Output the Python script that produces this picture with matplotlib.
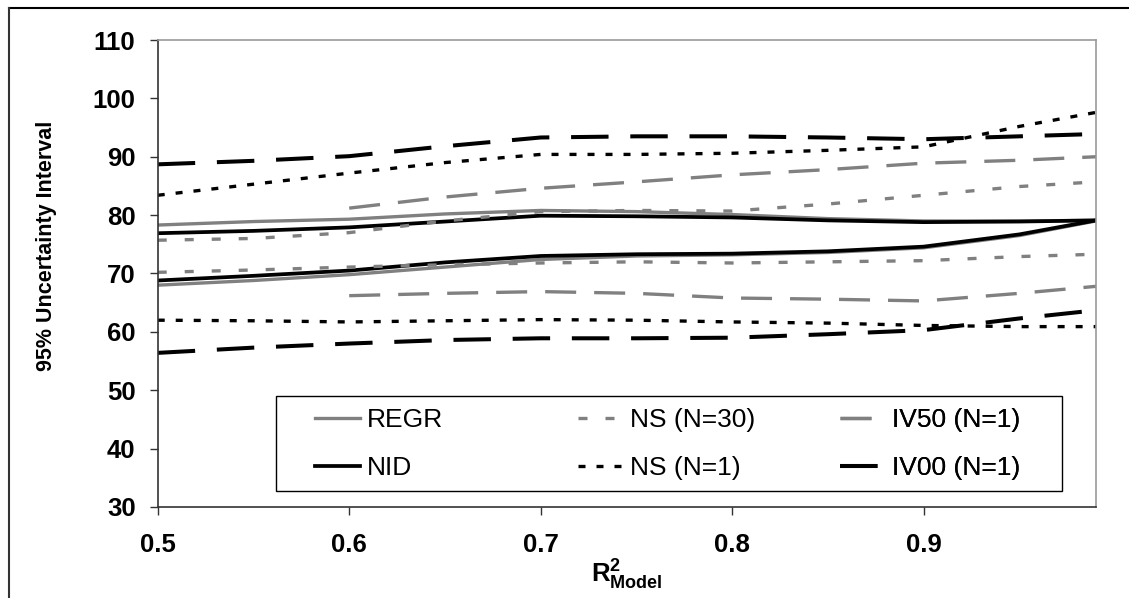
import numpy as np
import matplotlib
matplotlib.use("Agg")
import matplotlib.pyplot as plt
from matplotlib.lines import Line2D
from matplotlib.patches import Rectangle

plt.rcParams['font.family'] = ['Liberation Sans', 'DejaVu Sans']
plt.rcParams['mathtext.fontset'] = 'custom'
plt.rcParams['mathtext.rm'] = 'Liberation Sans'
plt.rcParams['mathtext.bf'] = 'Liberation Sans:bold'

# R^2 values
r2 = [0.5, 0.55, 0.6, 0.65, 0.7, 0.75, 0.8, 0.85, 0.9, 0.95, 0.99]
r2_iv50 = [0.6, 0.65, 0.7, 0.75, 0.8, 0.85, 0.9, 0.95, 0.99]

regr_hi = [78.3, 78.9, 79.3, 80.2, 80.8, 80.6, 80.1, 79.4, 79.0, 79.0, 79.1]
regr_lo = [68.0, 68.8, 69.8, 71.1, 72.4, 73.0, 73.2, 73.6, 74.4, 76.5, 79.0]
nid_hi = [76.9, 77.3, 77.9, 78.9, 79.9, 79.8, 79.6, 79.1, 78.8, 78.9, 79.1]
nid_lo = [68.8, 69.6, 70.5, 71.9, 73.0, 73.3, 73.4, 73.8, 74.6, 76.7, 79.1]
ns30_hi = [75.7, 76.0, 77.0, 79.0, 80.6, 80.8, 80.7, 81.9, 83.4, 84.9, 85.7]
ns30_lo = [70.2, 70.6, 71.1, 71.5, 71.8, 72.0, 71.8, 72.0, 72.2, 72.9, 73.3]
ns1_hi = [83.4, 85.3, 87.2, 89.0, 90.4, 90.4, 90.6, 91.1, 91.7, 95.2, 97.6]
ns1_lo = [62.0, 61.9, 61.7, 61.9, 62.1, 62.0, 61.7, 61.5, 61.1, 60.9, 60.9]
iv50_hi = [81.2, 83.1, 84.6, 85.7, 86.9, 87.8, 88.9, 89.4, 90.0]
iv50_lo = [66.2, 66.6, 66.9, 66.6, 65.8, 65.6, 65.3, 66.6, 67.8]
iv00_hi = [88.7, 89.3, 90.1, 91.8, 93.3, 93.5, 93.5, 93.3, 93.0, 93.5, 93.9]
iv00_lo = [56.4, 57.3, 58.0, 58.6, 58.9, 58.9, 59.0, 59.6, 60.3, 62.3, 63.7]

gray = '#808080'
lw = 2.4
long_dash = (0, (9.3, 5.4))
short_dash = (0, (2.7, 5.4))
dotted = (0, (2.1, 3.3))

fig = plt.figure(figsize=(11.29, 5.98), dpi=100)
ax = fig.add_axes([0.1397, 0.1522, 0.8311, 0.7809])

h_regr, = ax.plot(r2, regr_hi, color=gray, lw=lw, label='REGR')
ax.plot(r2, regr_lo, color=gray, lw=lw)
h_nid, = ax.plot(r2, nid_hi, color='black', lw=lw + 0.3, label='NID')
ax.plot(r2, nid_lo, color='black', lw=lw + 0.3)
h_ns30, = ax.plot(r2, ns30_hi, color=gray, lw=lw, ls=short_dash, label='NS (N=30)')
ax.plot(r2, ns30_lo, color=gray, lw=lw, ls=short_dash)
h_ns1, = ax.plot(r2, ns1_hi, color='black', lw=lw, ls=dotted, label='NS (N=1)')
ax.plot(r2, ns1_lo, color='black', lw=lw, ls=dotted)
h_iv50, = ax.plot(r2_iv50, iv50_hi, color=gray, lw=lw, ls=long_dash, label='IV50 (N=1)')
ax.plot(r2_iv50, iv50_lo, color=gray, lw=lw, ls=long_dash)
h_iv00, = ax.plot(r2, iv00_hi, color='black', lw=lw + 0.5, ls=long_dash, label='IV00 (N=1)')
ax.plot(r2, iv00_lo, color='black', lw=lw + 0.5, ls=long_dash)

ax.set_xlim(0.5, 0.99)
ax.set_ylim(30, 110)
ax.set_xticks([0.5, 0.6, 0.7, 0.8, 0.9])
ax.set_yticks(range(30, 111, 10))
ax.tick_params(axis='both', direction='out', length=6, width=1, colors='#333333',
               labelsize=18.5, labelcolor='black')
ax.tick_params(axis='x', pad=13)
ax.tick_params(axis='y', pad=10)
for lab in ax.get_xticklabels() + ax.get_yticklabels():
    lab.set_fontweight('bold')

ax.spines['left'].set_color('#333333')
ax.spines['bottom'].set_color('#333333')
ax.spines['top'].set_color('#999999')
ax.spines['right'].set_color('#999999')
for s in ax.spines.values():
    s.set_linewidth(1.2)

ax.set_ylabel('95% Uncertainty Interval', fontsize=15.5, fontweight='bold')
ax.yaxis.set_label_coords(-0.107, 0.56)
ax.set_xlabel(r'$\mathbf{R^2_{Model}}$', fontsize=18.5, labelpad=0)

# legend: one frame, three fixed-width columns like Excel
ax.add_patch(Rectangle((0.126, 0.034), 0.838, 0.2034, transform=ax.transAxes,
                       facecolor='white', edgecolor='black', lw=1.0, zorder=4))
columns = [([h_regr, h_nid], 0.1676), ([h_ns30, h_ns1], 0.4479), ([h_iv50, h_iv00], 0.7272)]
for handles, xpos in columns:
    leg = ax.legend(handles=handles, loc='center left', bbox_to_anchor=(xpos, 0.135),
                    fontsize=19, frameon=False, handlelength=1.7,
                    handletextpad=0.27, labelspacing=0.9, borderpad=0,
                    borderaxespad=0)
    leg.set_zorder(5)
    ax.add_artist(leg)

# outer chart border (top and left visible)
fig.add_artist(Line2D([8.5 / 1129, 1], [1 - 7.5 / 598, 1 - 7.5 / 598],
                      transform=fig.transFigure, color='black', lw=1.5))
fig.add_artist(Line2D([8.5 / 1129, 8.5 / 1129], [0, 1 - 7.5 / 598],
                      transform=fig.transFigure, color='#333333', lw=1.5))

fig.savefig('out.png', dpi=100)
